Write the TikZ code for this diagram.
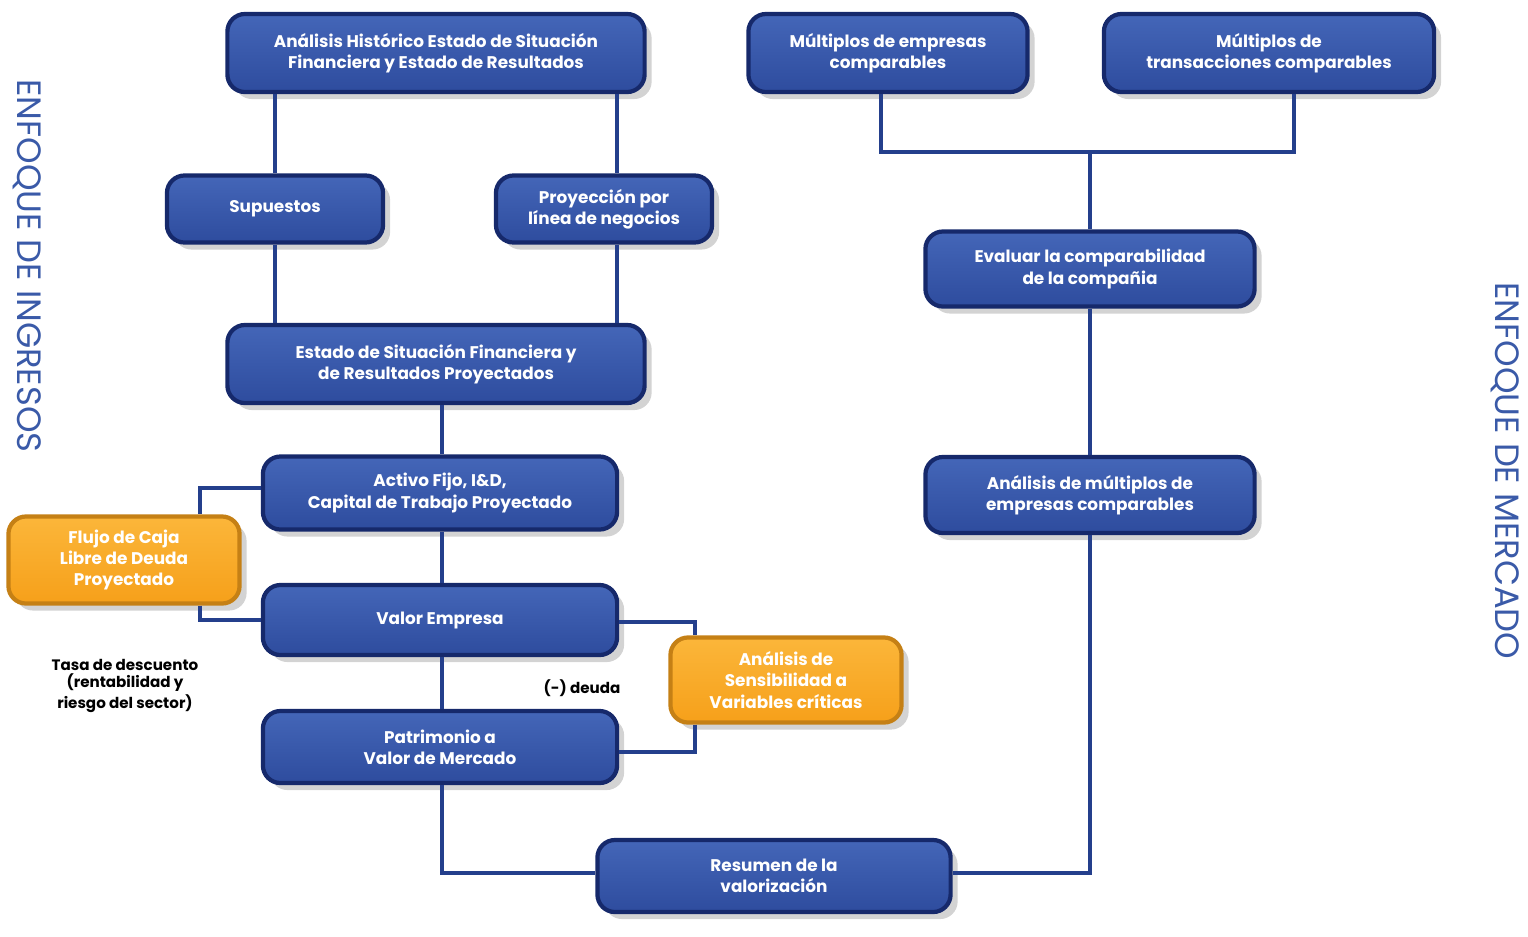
\documentclass[tikz,border=0pt]{standalone}
\usepackage{fontspec}
\setmainfont{Poppins}
\usetikzlibrary{shadows}
\definecolor{boxblue}{HTML}{2E4C9E}
\definecolor{boxtop}{HTML}{4466B8}
\definecolor{boxedge}{HTML}{16296B}
\definecolor{linkblue}{HTML}{243F8C}
\definecolor{boxorange}{HTML}{F6A01A}
\definecolor{orangetop}{HTML}{FBB63A}
\definecolor{titleblue}{HTML}{3A5AA8}
\tikzset{
  box/.style={shape=rectangle,rounded corners=5pt,draw=boxedge,line width=1.2pt,
    top color=boxtop,bottom color=boxblue,text=white,align=center,
    font=\fontsize{4.8}{6}\selectfont\bfseries,inner sep=0pt,
    drop shadow={shadow xshift=2pt,shadow yshift=-2pt,opacity=0.35}},
  obox/.style={box,draw=boxorange!80!black,top color=orangetop,bottom color=boxorange},
  link/.style={draw=linkblue,line width=1.3pt},
  note/.style={align=center,font=\fontsize{4.3}{5}\selectfont\bfseries}
}
\begin{document}
\begin{tikzpicture}[x=0.01cm,y=-0.01cm]
        \useasboundingbox (0,0) rectangle (1528,936);
        \node[box,minimum width=4.17cm,minimum height=0.78cm] (historico) at (436,53) {Análisis Histórico Estado de Situación\\Financiera y Estado de Resultados};
        \node[box,minimum width=2.79cm,minimum height=0.78cm] (multemp) at (888,53) {Múltiplos de empresas\\comparables};
        \node[box,minimum width=3.30cm,minimum height=0.78cm] (multtrans) at (1269,53) {Múltiplos de\\transacciones comparables};
        \node[box,minimum width=2.16cm,minimum height=0.67cm] (supuestos) at (275,209) {Supuestos};
        \node[box,minimum width=2.16cm,minimum height=0.67cm] (proyeccion) at (604,209) {Proyección por\\línea de negocios};
        \node[box,minimum width=3.29cm,minimum height=0.75cm] (evaluar) at (1090,269) {Evaluar la comparabilidad\\de la compañia};
        \node[box,minimum width=4.17cm,minimum height=0.78cm] (estado) at (436,364) {Estado de Situación Financiera y\\de Resultados Proyectados};
        \node[box,minimum width=3.54cm,minimum height=0.73cm] (activo) at (440,493) {Activo Fijo, I\&D,\\Capital de Trabajo Proyectado};
        \node[box,minimum width=3.29cm,minimum height=0.76cm] (analisis) at (1090,495) {Análisis de múltiplos de\\empresas comparables};
        \node[obox,minimum width=2.31cm,minimum height=0.87cm] (flujo) at (124,560) {Flujo de Caja\\Libre de Deuda\\Proyectado};
        \node[box,minimum width=3.54cm,minimum height=0.70cm] (valor) at (440,620) {Valor Empresa};
        \node[obox,minimum width=2.31cm,minimum height=0.85cm] (sensib) at (786,680) {Análisis de\\Sensibilidad a\\Variables críticas};
        \node[box,minimum width=3.54cm,minimum height=0.72cm] (patrimonio) at (440,747) {Patrimonio a\\Valor de Mercado};
        \node[box,minimum width=3.53cm,minimum height=0.72cm] (resumen) at (774,876) {Resumen de la\\valorización};
        \node[note] (tasa) at (125,686) {Tasa de descuento\\(rentabilidad y\\riesgo del sector)};
        \node[note] (deuda) at (582,688) {(-) deuda};
        \node[rotate=-90,text=titleblue,font=\fontsize{9.6}{10}\selectfont] (ingresos) at (27,266) {ENFOQUE DE INGRESOS};
        \node[rotate=-90,text=titleblue,font=\fontsize{9.6}{10}\selectfont] (mercado) at (1505,471) {ENFOQUE DE MERCADO};
        \coordinate (split) at (1090,152);

        \begin{scope}[on background layer/.style={}]
        \path[link]
        (historico.south -| supuestos) edge (supuestos)
        (historico.south -| 617,0) edge (supuestos.north -| 617,0)
        (supuestos) edge (estado.north -| supuestos)
        (proyeccion.south -| 617,0) edge (estado.north -| 617,0)
        (estado.south -| 442,0) edge (activo.north -| 442,0)
        (activo.south -| 442,0) edge (valor.north -| 442,0)
        (valor.south -| 442,0) edge (patrimonio.north -| 442,0)
        (evaluar) edge (analisis)
        (split) edge (evaluar)
        ;
        \end{scope}
        \draw[link] (multemp.south -| 881,0) |- (split) -| (multtrans.south -| 1294,0);
        \draw[link] (activo.west |- 0,488) -| (flujo.north -| 200,0);
        \draw[link] (flujo.south -| 200,0) |- (valor.west |- 0,620);
        \draw[link] (valor.east |- 0,622) -| (sensib.north -| 695,0);
        \draw[link] (sensib.south -| 695,0) |- (patrimonio.east |- 0,752);
        \draw[link] (patrimonio.south -| 442,0) |- (resumen.west |- 0,873);
        \draw[link] (analisis) |- (resumen.east |- 0,873);
        \end{tikzpicture}
\end{document}
